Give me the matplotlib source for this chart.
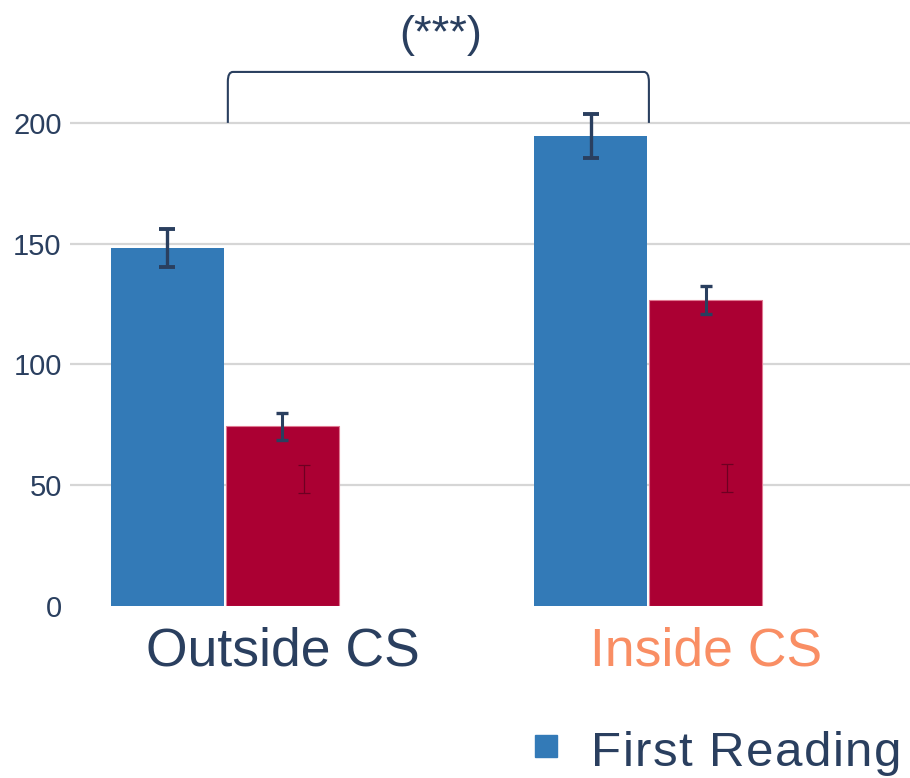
import matplotlib
matplotlib.use("Agg")
import matplotlib.pyplot as plt
from matplotlib.path import Path
from matplotlib.patches import PathPatch, Rectangle

plt.rcParams['font.family'] = ['Liberation Sans', 'DejaVu Sans']

# Data
categories = ["Outside CS", "Inside CS"]
category_colors = ["#2a3f5f", "#f98e64"]
first_reading = [148.2, 194.6]
first_reading_err = [7.7, 9.0]
second_reading = [74.5, 126.5]
second_reading_err = [5.6, 5.8]
inner_marker = [52.6, 53.0]
inner_marker_err = [5.8, 5.8]
y_ticks = [0, 50, 100, 150, 200]
significance_label = "(***)"
legend_label = "First Reading"

BLUE = "#337ab7"
RED = "#ab0033"
NAVY = "#2a3f5f"

fig = plt.figure(figsize=(9.1, 7.78), dpi=100)
fig.patch.set_facecolor("white")
ax = fig.add_axes([70 / 910, (778 - 606) / 778, 840 / 910, 586 / 778])
ax.set_facecolor("white")

x = [0, 1]
w = 0.267
off = 0.136
xb = [xi - off for xi in x]
xr = [xi + off for xi in x]

ax.bar(xb, first_reading, width=w, color=BLUE, zorder=2)
ax.bar(xr, second_reading, width=w, color=RED, edgecolor="#e07891",
       linewidth=0.8, zorder=2)

ax.errorbar(xb, first_reading, yerr=first_reading_err, fmt="none",
            ecolor=NAVY, elinewidth=2.4, capsize=5.8, capthick=2.8, zorder=3)
ax.errorbar(xr, second_reading, yerr=second_reading_err, fmt="none",
            ecolor=NAVY, elinewidth=2.2, capsize=4.3, capthick=2.4, zorder=3)
ax.errorbar([v + 0.05 for v in xr], inner_marker, yerr=inner_marker_err,
            fmt="none", ecolor="#6e0022", elinewidth=0.9, capsize=4.3,
            capthick=0.9, zorder=3)

ax.set_xlim(-0.366, 1.619)
ax.set_ylim(0, 242.6)
ax.set_yticks(y_ticks)
ax.set_yticklabels([str(t) for t in y_ticks])
ax.tick_params(axis="y", length=0, pad=6, labelsize=21, labelcolor=NAVY)
ax.set_xticks([])
for s in ax.spines.values():
    s.set_visible(False)
for yv in y_ticks[1:]:
    ax.axhline(yv, color="#d6d6d6", lw=1.6, zorder=1)

# Category labels under the bar groups
for xi, lab, col in zip(xr, categories, category_colors):
    ax.text(xi, -24.5, lab, ha="center", va="baseline", fontsize=38.5,
            color=col, clip_on=False)

# Significance bracket between the two groups
x0, x1 = 0.007, 1.002
ylo, yhi = 200, 221.1
r_x, r_y = 0.012, 4.0
verts = [(x0, ylo), (x0, yhi - r_y), (x0, yhi), (x0 + r_x, yhi),
         (x1 - r_x, yhi), (x1, yhi), (x1, yhi - r_y), (x1, ylo)]
codes = [Path.MOVETO, Path.LINETO, Path.CURVE3, Path.CURVE3,
         Path.LINETO, Path.CURVE3, Path.CURVE3, Path.LINETO]
ax.add_patch(PathPatch(Path(verts, codes), fill=False, edgecolor=NAVY,
                       lw=1.5, clip_on=False, zorder=4))
ax.text(0.51, 236.0, significance_label, ha="center", va="center",
        fontsize=32.5, color=NAVY, clip_on=False)

# Legend entry (swatch + letter-spaced label)
fig.patches.append(Rectangle((535 / 910, 1 - 757 / 778), 22 / 910, 22 / 778,
                             transform=fig.transFigure, color=BLUE))
renderer = fig.canvas.get_renderer()
px = 591.0
tracking = 1.4
for ch in legend_label:
    t = fig.text(px / 910, 1 - 766.5 / 778, ch, fontsize=35.5,
                 color=NAVY, ha="left", va="baseline")
    if ch == " ":
        probe = fig.text(0, 0, "a a", fontsize=35.5)
        probe2 = fig.text(0, 0, "aa", fontsize=35.5)
        wch = (probe.get_window_extent(renderer).width
               - probe2.get_window_extent(renderer).width)
        probe.remove()
        probe2.remove()
    else:
        wch = t.get_window_extent(renderer).width
    px += wch + tracking

fig.savefig("out.png", dpi=100, facecolor="white")
